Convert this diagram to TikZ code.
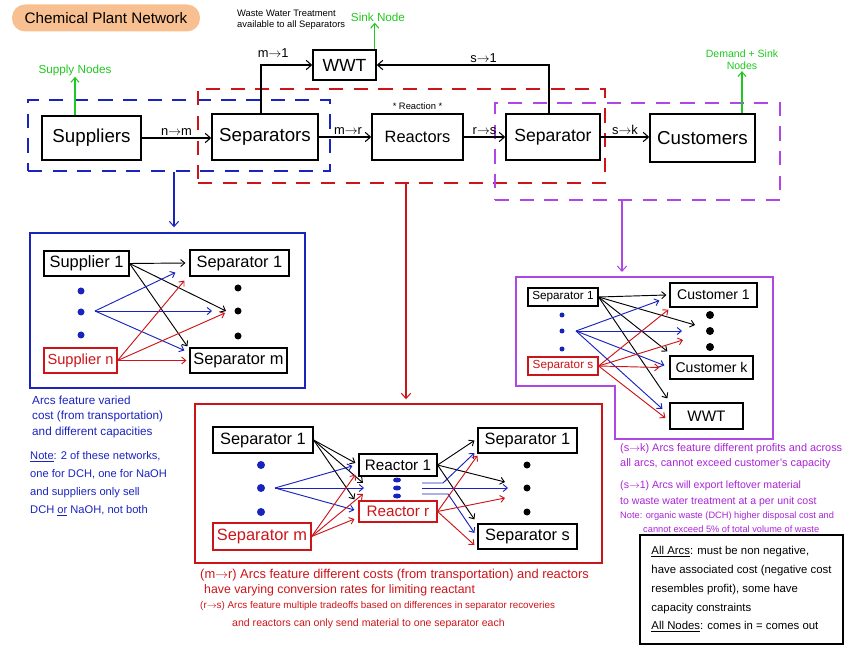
\documentclass[tikz,border=0pt]{standalone}
\usepackage{fontspec}
\setmainfont{Liberation Sans}
\usetikzlibrary{shapes.geometric, arrows, arrows.meta, positioning}

\definecolor{netblue}{RGB}{25,35,190}
\definecolor{netred}{RGB}{205,20,25}
\definecolor{netpurple}{RGB}{175,70,230}
\definecolor{notepurple}{RGB}{170,35,215}
\definecolor{netgreen}{RGB}{30,200,30}
\definecolor{titleorange}{RGB}{248,192,145}

\newlength{\pxu}
\setlength{\pxu}{0.03cm}

\begin{document}
\begin{tikzpicture}[
    x=0.03cm, y=-0.03cm,
    box/.style={rectangle, draw, line width=1.3pt, fill=white, inner sep=0pt, font=\fontsize{16}{18}\selectfont},
    sbox/.style={rectangle, draw, line width=1pt, fill=white, inner sep=0pt, font=\fontsize{14}{16}\selectfont},
    grp/.style={rectangle, draw, line width=1.2pt, dash pattern=on 12pt off 9pt, inner sep=0pt},
    net/.style={rectangle, draw, line width=1.2pt, inner sep=0pt},
    arr/.style={-{Straight Barb[length=4.5pt,width=8pt]}, line width=0.9pt},
    narr/.style={-{Straight Barb[length=3.5pt,width=6pt]}, line width=0.8pt},
    lbl/.style={font=\fontsize{11}{12}\selectfont, inner sep=2pt},
    gtext/.style={text=netgreen, font=\fontsize{9}{10}\selectfont, align=center, inner sep=1pt},
    garr/.style={-{Straight Barb[length=4pt,width=7pt]}, netgreen, line width=0.9pt},
    ndot/.style={circle, fill, inner sep=0pt, minimum size=7\pxu},
    note/.style={inner sep=0pt, align=left, anchor=north west}
]
\useasboundingbox (0,0) rectangle (857,651);

% title
\node[fill=titleorange, rounded corners=13\pxu, minimum width=188\pxu, minimum height=27\pxu,
      inner sep=0pt, font=\fontsize{13}{15}\selectfont] (title) at (106,18) {Chemical Plant Network};

% groups of the main network
\node[grp, netblue, minimum width=302\pxu, minimum height=71\pxu] (bgrp) at (179,135.5) {};
\node[grp, netred, minimum width=407\pxu, minimum height=94\pxu] (rgrp) at (401.5,136) {};
\node[grp, netpurple, minimum width=285\pxu, minimum height=97\pxu] (pgrp) at (637.5,151.5) {};

% main network
\node[box, minimum width=99\pxu, minimum height=44\pxu] (sup) at (91.5,138) {Suppliers};
\node[box, minimum width=106\pxu, minimum height=46\pxu] (sepa) at (265,137) {Separators};
\node[box, minimum width=91\pxu, minimum height=46\pxu, font=\fontsize{14}{16}\selectfont] (reac) at (417.5,137) {Reactors};
\node[box, minimum width=94\pxu, minimum height=46\pxu, font=\fontsize{15}{17}\selectfont] (sepb) at (553,137) {Separator};
\node[box, minimum width=105\pxu, minimum height=48\pxu] (cust) at (702.5,138) {Customers};
\node[box, minimum width=63\pxu, minimum height=30\pxu, font=\fontsize{15}{17}\selectfont] (wwt) at (344.5,65) {WWT};
\node[font=\fontsize{8}{9}\selectfont, above=0pt of reac] (reacnote) {* Reaction *};

\draw[arr] (sup.east) -- node[lbl, above] {n$\rightarrow$m} (sup.east -| sepa.west);
\draw[arr] (sepa.east) -- node[lbl, above, xshift=3\pxu] {m$\rightarrow$r} (reac.west);
\draw[arr] (reac.east) -- node[lbl, above] {r$\rightarrow$s} (sepb.west);
\draw[arr] (sepb.east) -- node[lbl, above] {s$\rightarrow$k} (sepb.east -| cust.west);
\draw[arr] ([xshift=-4\pxu]sepa.north) |- node[lbl, pos=0.62, above=4pt] {m$\rightarrow$1} (wwt.west);
\draw[arr] ([xshift=-4\pxu]sepb.north) |- node[lbl, pos=0.69, above] {s$\rightarrow$1} (wwt.east);

% node kinds
\node[gtext, font=\fontsize{10}{11}\selectfont] (supn) at (75,70) {Supply Nodes};
\draw[garr] (supn.south |- sup.north) -- (supn.south);
\node[gtext, font=\fontsize{10}{11}\selectfont] (sinkn) at (378,17) {Sink Node};
\draw[garr] ([xshift=-2\pxu]wwt.north east) -- ([xshift=-2\pxu]wwt.north east |- sinkn.south);
\node[gtext] (demn) at (742,60) {Demand + Sink\\Nodes};
\draw[garr] (demn.south |- cust.north) -- (demn.south);
\node[note, font=\fontsize{8}{9}\selectfont] (wwtnote) at (237,10) {Waste Water Treatment\\available to all Separators};

% sub-network frames
\node[net, draw=netblue, minimum width=275\pxu, minimum height=155\pxu] (bnet) at (167.5,310.5) {};
\node[net, draw=netred, minimum width=407\pxu, minimum height=159\pxu] (rnet) at (398.5,483.5) {};
\draw[netpurple, line width=1.2pt] (516,277) -- (773,277) -- (773,439) -- (615,439) -- (615,386) -- (516,386) -- cycle;
\coordinate (pnettop) at (622,277);

\draw[arr, netblue] ([xshift=-5\pxu]bgrp.south) -- ([xshift=-5\pxu]bgrp.south |- bnet.north) [shorten >=5\pxu];
\draw[arr, netred] ([xshift=4.5\pxu]rgrp.south) -- ([xshift=4.5\pxu]rgrp.south |- rnet.north) [shorten >=4\pxu];
\draw[arr, netpurple] (pnettop |- pgrp.south) -- (pnettop) [shorten >=5\pxu];

% suppliers -> separators
\node[sbox, minimum width=85\pxu, minimum height=25\pxu] (bs1) at (86.5,263.5) {Supplier 1};
\node[sbox, draw=netred, text=netred, minimum width=73\pxu, minimum height=25\pxu, font=\fontsize{12.5}{14}\selectfont] (bsn) at (80.5,360.5) {Supplier n};
\node[sbox, minimum width=99\pxu, minimum height=26\pxu] (bp1) at (239.5,263) {Separator 1};
\node[sbox, minimum width=97\pxu, minimum height=25\pxu] (bpm) at (238.5,360.5) {Separator m};
\foreach \y in {291,335} \node[ndot, netblue] at (81,\y) {};
\node[ndot, netblue] (bsd) at (81,312) {};
\foreach \y in {288,336} \node[ndot] at (238,\y) {};
\node[ndot] (bpd) at (238,311) {};
\coordinate (bsfan) at (95,311);

\draw[narr] (bs1.east) -- ([xshift=-4\pxu]bp1.west);
\draw[narr] (bs1.east) -- ([xshift=-12\pxu]bpd.center);
\draw[narr] (bs1.east) -- ([xshift=-2\pxu,yshift=1\pxu]bpm.north west);
\draw[narr, netblue] (bsfan) -- ([xshift=-14\pxu,yshift=4\pxu]bp1.south west);
\draw[narr, netblue] (bsfan) -- ([xshift=-26\pxu]bpd.center);
\draw[narr, netblue] (bsfan) -- ([xshift=-5\pxu,yshift=-3\pxu]bpm.north west);
\draw[narr, netred] (bsn.east) -- ([xshift=-5\pxu,yshift=-4\pxu]bp1.south west);
\draw[narr, netred] (bsn.east) -- ([xshift=-13\pxu,yshift=-2\pxu]bpd.center);
\draw[narr, netred] (bsn.east) -- ([xshift=-3\pxu]bpm.west);

% separators -> customers
\node[sbox, minimum width=70\pxu, minimum height=18\pxu, font=\fontsize{10}{11}\selectfont] (ps1) at (563,297) {Separator 1};
\node[sbox, draw=netred, text=netred, minimum width=70\pxu, minimum height=18\pxu, font=\fontsize{10}{11}\selectfont] (pss) at (563,366) {Separator s};
\node[sbox, minimum width=87\pxu, minimum height=24\pxu, font=\fontsize{12}{13}\selectfont] (pc1) at (713.5,295) {Customer 1};
\node[sbox, minimum width=83\pxu, minimum height=23\pxu, font=\fontsize{12}{13}\selectfont] (pck) at (711.5,367.5) {Customer k};
\node[sbox, minimum width=73\pxu, minimum height=26\pxu, font=\fontsize{13}{14}\selectfont] (pw) at (706.5,416) {WWT};
\foreach \y in {315,349} \node[ndot, netblue, minimum size=5\pxu] at (562,\y) {};
\node[ndot, netblue, minimum size=5\pxu] (psd) at (562,331) {};
\foreach \y in {315,347} \node[ndot, minimum size=8\pxu] at (710,\y) {};
\node[ndot, minimum size=8\pxu] (pcd) at (710,331) {};
\coordinate (psfan) at (576,331);

\draw[narr] (ps1.east) -- ([xshift=-3\pxu]pc1.west);
\draw[narr] (ps1.east) -- ([xshift=-15\pxu,yshift=6\pxu]pcd.center);
\draw[narr] (ps1.east) -- ([xshift=-2\pxu,yshift=4\pxu]pck.north west);
\draw[narr] (ps1.east) -- ([xshift=-2\pxu,yshift=4\pxu]pw.north west);
\draw[narr, netblue] (psfan) -- ([xshift=-10\pxu,yshift=7\pxu]pc1.south west);
\draw[narr, netblue] (psfan) -- ([xshift=-28\pxu]pcd.center);
\draw[narr, netblue] (psfan) -- ([xshift=-5\pxu,yshift=2\pxu]pck.west);
\draw[narr, netblue] (psfan) -- ([xshift=-7\pxu,yshift=7\pxu]pw.west);
\draw[narr, netred] (pss.east) -- ([xshift=-1\pxu,yshift=-2\pxu]pc1.south west);
\draw[narr, netred] (pss.east) -- ([xshift=-27\pxu,yshift=-9\pxu]pcd.center);
\draw[narr, netred] (pss.east) -- ([xshift=-10\pxu]pck.west);
\draw[narr, netred] (pss.east) -- ([xshift=-4\pxu,yshift=-2\pxu]pw.west);

% separators -> reactors -> separators
\node[sbox, minimum width=100\pxu, minimum height=26\pxu] (rs1) at (263,440) {Separator 1};
\node[sbox, draw=netred, text=netred, minimum width=98\pxu, minimum height=27\pxu] (rsm) at (262,536.5) {Separator m};
\node[sbox, minimum width=78\pxu, minimum height=22\pxu, font=\fontsize{13}{14}\selectfont] (rr1) at (398,465) {Reactor 1};
\node[sbox, draw=netred, text=netred, minimum width=78\pxu, minimum height=21\pxu, font=\fontsize{13}{14}\selectfont] (rrr) at (398,511.5) {Reactor r};
\node[sbox, minimum width=99\pxu, minimum height=25\pxu] (rt1) at (527.5,440.5) {Separator 1};
\node[sbox, minimum width=99\pxu, minimum height=25\pxu] (rts) at (527.5,536.5) {Separator s};
\foreach \y in {465,512} \node[ndot, netblue, minimum size=8\pxu] at (261,\y) {};
\node[ndot, netblue, minimum size=8\pxu] (rsd) at (261,488) {};
\foreach \y in {480,496} \node[ellipse, fill=netblue, inner sep=0pt, minimum width=8\pxu, minimum height=5\pxu] at (397,\y) {};
\node[ellipse, fill=netblue, inner sep=0pt, minimum width=8\pxu, minimum height=5\pxu] (rrd) at (397,488) {};
\foreach \y in {465,512} \node[ndot] at (527,\y) {};
\node[ndot] (rtd) at (527,488) {};
\coordinate (rsfan) at (275,488);

\draw[narr] (rs1.east) -- ([xshift=-3\pxu,yshift=2\pxu]rr1.west);
\draw[narr] (rs1.east) -- ([xshift=-34\pxu,yshift=5\pxu]rrd.center);
\draw[narr] (rs1.east) -- ([xshift=-4\pxu,yshift=1\pxu]rrr.north west);
\draw[narr, netblue] (rsfan) -- ([xshift=-6\pxu,yshift=-1\pxu]rr1.west);
\draw[narr, netblue] (rsfan) -- ([xshift=-33\pxu]rrd.center);
\draw[narr, netblue] (rsfan) -- ([xshift=-4\pxu,yshift=1.5\pxu]rrr.west);
\draw[narr, netred] (rsm.east) -- ([xshift=-3\pxu,yshift=2\pxu]rr1.south west);
\draw[narr, netred] (rsm.east) -- ([xshift=-34\pxu,yshift=-6\pxu]rrd.center);
\draw[narr, netred] (rsm.east) -- ([xshift=-4\pxu,yshift=-7.5\pxu]rrr.west);

\draw[narr] (rr1.east) -- ([xshift=-3\pxu]rt1.west);
\draw[narr] (rr1.east) -- ([xshift=-22\pxu,yshift=6\pxu]rtd.center);
\draw[narr] (rr1.east) -- ([xshift=-3\pxu,yshift=4\pxu]rts.north west);
\draw[narr, netblue] ([xshift=25\pxu,yshift=5\pxu]rrd.center) -- ++(21,0) -- ([xshift=-3\pxu,yshift=-12.5\pxu]rt1.west);
\draw[narr, netblue] ([xshift=25\pxu]rrd.center) -- ([xshift=-19\pxu]rtd.center);
\draw[narr, netblue] ([xshift=25\pxu,yshift=-6\pxu]rrd.center) -- ++(26,0) -- ([xshift=-3\pxu,yshift=3.5\pxu]rts.west);
\draw[narr, netred] (rrr.east) -- ([yshift=-2\pxu]rt1.south west);
\draw[narr, netred] (rrr.east) -- ([xshift=-22\pxu,yshift=-10\pxu]rtd.center);
\draw[narr, netred] (rrr.east) -- ([xshift=-3\pxu,yshift=-8.5\pxu]rts.west);

% notes
\node[note, text=netblue, font=\fontsize{10}{13}\selectfont] (bnotea) at (32,396) {Arcs feature varied\\cost (from transportation)\\and different capacities};
\node[note, text=netblue, font=\fontsize{9.5}{15.5}\selectfont] (bnoteb) at (30,451) {\underline{Note}: 2 of these networks,\\one for DCH, one for NaOH\\and suppliers only sell\\DCH \underline{or} NaOH, not both};

\node[note, anchor=west, text=netred, font=\fontsize{11}{12}\selectfont] (rnotea) at (200,575) {(m$\rightarrow$r) Arcs feature different costs (from transportation) and reactors};
\node[note, anchor=west, text=netred, font=\fontsize{10.5}{11}\selectfont] (rnoteb) at (204,590) {have varying conversion rates for limiting reactant};
\node[note, anchor=west, text=netred, font=\fontsize{8.4}{9}\selectfont] (rnotec) at (200,606) {(r$\rightarrow$s) Arcs feature multiple tradeoffs based on differences in separator recoveries};
\node[note, anchor=west, text=netred, font=\fontsize{9}{10}\selectfont] (rnoted) at (232,624) {and reactors can only send material to one separator each};

\node[note, text=notepurple, font=\fontsize{9.3}{13.5}\selectfont] (pnotea) at (620,443) {(s$\rightarrow$k) Arcs feature different profits and across\\all arcs, cannot exceed customer's capacity};
\node[note, text=notepurple, font=\fontsize{9}{13}\selectfont] (pnoteb) at (620,481) {(s$\rightarrow$1) Arcs will export leftover material\\to waste water treatment at a per unit cost};
\node[note, anchor=west, text=notepurple, font=\fontsize{7.9}{9}\selectfont] (pnotec) at (620,516) {Note: organic waste (DCH) higher disposal cost and};
\node[note, anchor=west, text=notepurple, font=\fontsize{7.9}{9}\selectfont] (pnoted) at (643,529) {cannot exceed 5\% of total volume of waste};

\node[draw, line width=1.2pt, minimum width=203\pxu, minimum height=109\pxu, inner sep=0pt, align=left,
      font=\fontsize{9.7}{16}\selectfont] (allbox) at (741.5,589.5)
      {\underline{All Arcs}: must be non negative,\\have associated cost (negative cost\\resembles profit), some have\\capacity constraints\\\underline{All Nodes}: comes in = comes out};

\end{tikzpicture}
\end{document}
